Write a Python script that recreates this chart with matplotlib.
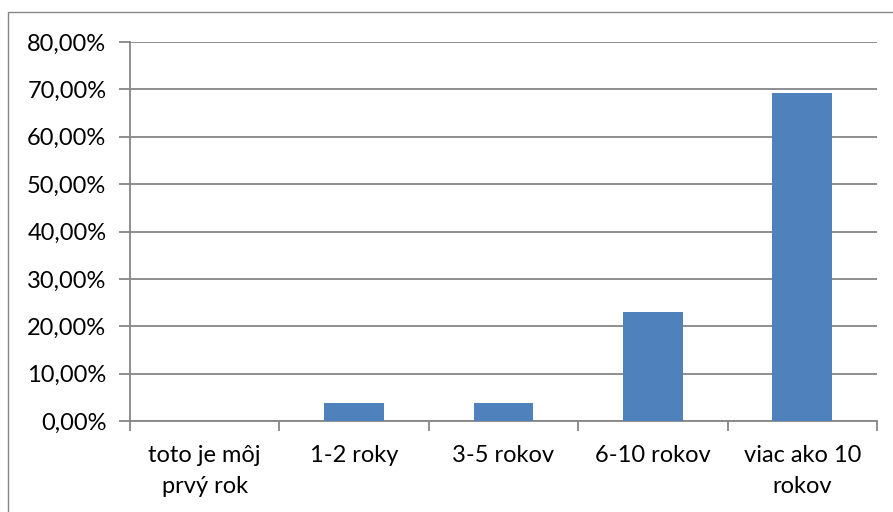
import matplotlib
matplotlib.use("Agg")
import matplotlib.pyplot as plt
from matplotlib.patches import Rectangle
from matplotlib.ticker import FuncFormatter, MultipleLocator, FixedLocator

categories = ["toto je môj\nprvý rok", "1-2 roky", "3-5 rokov", "6-10 rokov", "viac ako 10\nrokov"]
values = [0.0, 3.85, 3.85, 23.08, 69.23]

W, H = 893, 512
fig = plt.figure(figsize=(W / 100, H / 100), dpi=100)
plt.rcParams['font.family'] = ['Lato', 'DejaVu Sans']

gray = "#868686"
# outer chart border
fig.patches.append(Rectangle((8 / W, -0.2), 1.0, 1 - 12 / H + 0.2, transform=fig.transFigure,
                             fill=False, edgecolor=gray, linewidth=1.0))

ax = fig.add_axes([130 / W, 1 - 421 / H, (877 - 130) / W, (421 - 42) / H])
x = list(range(len(categories)))
ax.bar(x, values, width=0.4, color="#4F81BD", zorder=3)

ax.set_xlim(-0.5, len(categories) - 0.5)
ax.set_ylim(0, 80)
ax.yaxis.set_major_locator(MultipleLocator(10))
ax.yaxis.set_major_formatter(FuncFormatter(lambda v, p: f"{v:.2f}".replace(".", ",") + "%"))
ax.grid(axis="y", color=gray, linewidth=1.3, zorder=0)

ax.set_xticks(x)
ax.set_xticklabels(categories, fontsize=17, linespacing=1.6)
ax.xaxis.set_minor_locator(FixedLocator([i - 0.5 for i in range(len(categories) + 1)]))
ax.tick_params(axis="x", which="major", length=0, pad=17)
ax.tick_params(axis="x", which="minor", length=7, width=1.3, color=gray)
ax.tick_params(axis="y", length=8, width=1.3, color=gray, labelsize=17, pad=9)

for s in ["top", "right"]:
    ax.spines[s].set_visible(False)
for s in ["left", "bottom"]:
    ax.spines[s].set_color(gray)
    ax.spines[s].set_linewidth(1.3)

fig.savefig("out.png", dpi=100)
